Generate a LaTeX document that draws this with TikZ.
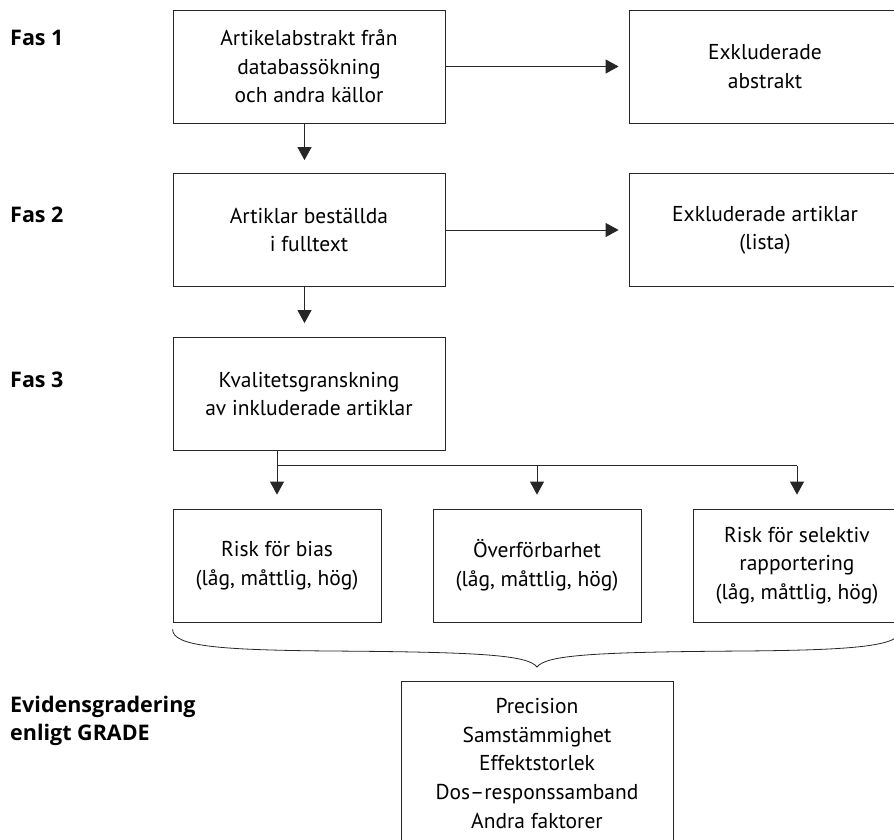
\documentclass[tikz,border=0pt]{standalone}
\usepackage{fontspec}
\setmainfont{PT Sans}
\newfontfamily\lblfont{Open Sans}
\usetikzlibrary{arrows.meta,calc}
\begin{document}
\begin{tikzpicture}[x=1pt,y=-1pt,
  box/.style={draw=black!85,line width=0.8pt,minimum width=#1,minimum height=113pt,
    align=center,inner sep=0pt,font=\fontsize{21.5}{28.5}\selectfont},
  box/.default=272pt,
  arr/.style={draw=black!85,line width=0.8pt,-{Triangle[width=14pt,length=13pt]}},
  ln/.style={draw=black!85,line width=0.8pt},
  lbl/.style={anchor=base west,align=left,inner sep=0pt,
    font=\lblfont\bfseries\fontsize{21.5}{28.5}\selectfont}]
\useasboundingbox (0,0) rectangle (894,839);
\clip (0,0) rectangle (894,839);
% labels
\node[lbl] (f1) at (10,45) {Fas 1};
\node[lbl] (f2) at (10,222.5) {Fas 2};
\node[lbl] (f3) at (10,387.5) {Fas 3};
\node[lbl,anchor=west] (ev) at (10,721) {Evidensgradering\\enligt GRADE};
% boxes
\node[box] (b1) at (309,66.5) {Artikelabstrakt från\\databassökning\\och andra källor};
\node[box] (b2) at (309,230) {Artiklar beställda\\i fulltext};
\node[box] (b3) at (309,394) {Kvalitetsgranskning\\av inkluderade artiklar};
\node[box] (e1) at (765,66.5) {Exkluderade\\abstrakt};
\node[box] (e2) at (765,230) {Exkluderade artiklar\\(lista)};
\node[box=208pt] (r1) at (277,565.5) {Risk för bias\\(låg, måttlig, hög)};
\node[box=208pt] (r2) at (537,565.5) {Överförbarhet\\(låg, måttlig, hög)};
\node[box=208pt] (r3) at (797,565.5) {Risk för selektiv\\rapportering\\(låg, måttlig, hög)};
\node[box,minimum height=164pt,anchor=north,font=\fontsize{21.5}{28.8}\selectfont] (g) at (537,681)
  {Precision\\Samstämmighet\\Effektstorlek\\Dos–responssamband\\Andra faktorer};
\draw[ln] (g.south west) -- ++(0,20);
\draw[ln] (g.south east) -- ++(0,20);
% connectors
\draw[arr] ([xshift=-4.5pt]b1.south) -- ([xshift=-4.5pt,yshift=13pt]b2.north);
\draw[arr] ([xshift=-4.5pt]b2.south) -- ([xshift=-4.5pt,yshift=14pt]b3.north);
\draw[arr] (b1.east) -- ([xshift=-10pt]e1.west);
\draw[arr] (b2.east) -- ([xshift=-10pt]e2.west);
\coordinate (h1) at ($(r1.north)+(0,-43)$);
\coordinate (h2) at ($(r2.north)+(0,-43)$);
\coordinate (h3) at ($(r3.north)+(0,-43)$);
\draw[ln] (b3.south -| r1.north) -- (h1) -- (h3);
\draw[arr] (h1) -- ([yshift=14pt]r1.north);
\draw[arr] (h2) -- ([yshift=14pt]r2.north);
\draw[arr] (h3) -- ([yshift=14pt]r3.north);
% brace
\draw[ln] ($(r1.south west)+(0,7)$) .. controls ($(r1.south west)+(0,24)$) and (220,650) .. (330,651)
  .. controls (480,652) and (528,655) .. (g.north |- 0,667)
  .. controls (546,655) and (594,652) .. (744,651)
  .. controls (854,650) and ($(r3.south east)+(0,24)$) .. ($(r3.south east)+(0,7)$);
\end{tikzpicture}
\end{document}
